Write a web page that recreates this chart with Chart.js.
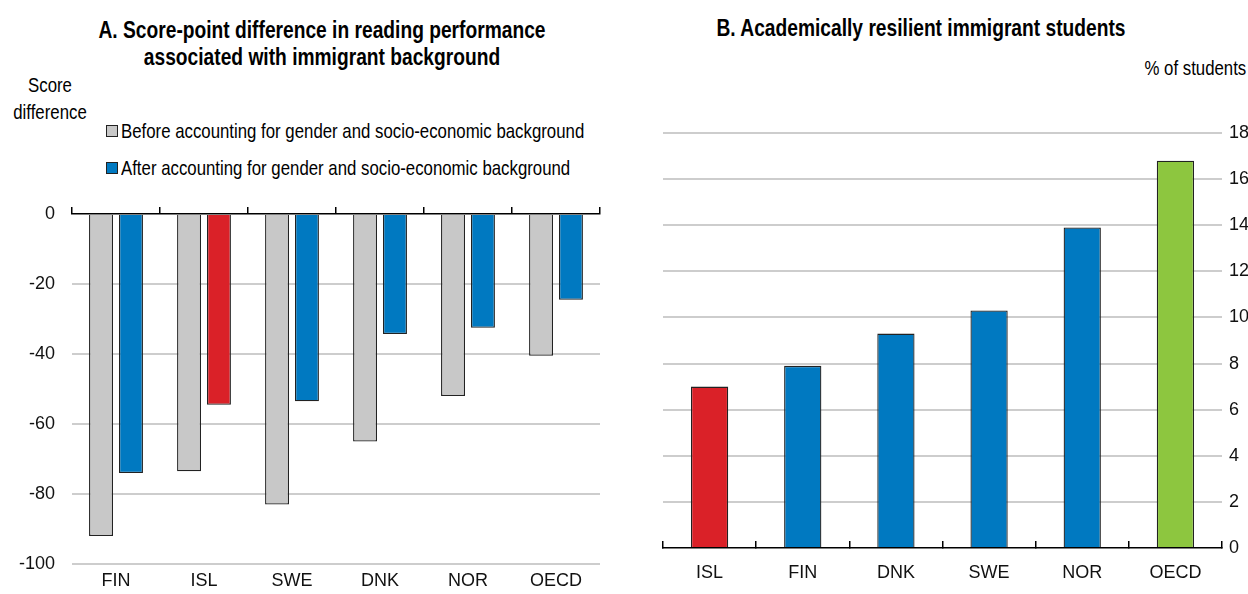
<!DOCTYPE html>
<html lang="en">
<head>
  <meta charset="UTF-8">
  <title>Immigrant students: reading gap and resilience</title>
  <style>
    body {
      margin: 0;
      width: 1248px;
      height: 594px;
      position: relative;
      overflow: hidden;
      background: #fff;
      color: #000;
      font-family: 'Liberation Sans Narrow', 'Arial Narrow', 'Liberation Sans', sans-serif;
    }
    .abs { position: absolute; }
    /* the source uses a tall condensed face; squeeze regular Liberation Sans to match */
    .title {
      position: absolute;
      font-weight: bold;
      font-size: 24px;
      line-height: 27px;
      text-align: center;
      white-space: nowrap;
      transform: scaleX(0.8);
      transform-origin: center top;
    }
    .unit {
      position: absolute;
      font-size: 21px;
      line-height: 27px;
      white-space: nowrap;
      transform: scaleX(0.8);
    }
    #legendA { position: absolute; left: 106px; top: 112px; font-size: 21px; }
    #legendA div { height: 37px; display: flex; align-items: center; white-space: nowrap; }
    #legendA span.sw {
      flex: none; width: 10px; height: 10px; border: 1px solid #222;
      margin: 0 3px 0 0;
    }
    #legendA span.tx { display: inline-block; transform: scaleX(0.8); transform-origin: left center; }
  </style>
</head>
<body>
  <div class="title" style="left:-28px; top:16px; width:700px;">A. Score-point difference in reading performance<br>associated with immigrant background</div>
  <div class="unit" style="left:0; top:71px; width:100px; text-align:center; transform-origin:center top;">Score<br>difference</div>
  <div id="legendA"></div>
  <div class="abs" style="left:0; top:0; width:620px; height:594px;"><canvas id="chartA"></canvas></div>

  <div class="title" style="left:571px; top:14px; width:700px;">B. Academically resilient immigrant students</div>
  <div class="unit" style="right:2px; top:54px; text-align:right; transform-origin:right top;">% of students</div>
  <div class="abs" style="left:640px; top:0; width:608px; height:594px;"><canvas id="chartB"></canvas></div>

  <script src="https://cdn.jsdelivr.net/npm/chart.js"></script>
  <script>
    // Panel A: score-point difference
    const countriesA = ['FIN', 'ISL', 'SWE', 'DNK', 'NOR', 'OECD'];
    const beforeAdj = [-92, -73.5, -83, -65, -52, -40.5];
    const afterAdj = [-74, -54.5, -53.5, -34.3, -32.5, -24.5];
    const ticksA = [0, -20, -40, -60, -80, -100];

    // Panel B: % of resilient immigrant students
    const countriesB = ['ISL', 'FIN', 'DNK', 'SWE', 'NOR', 'OECD'];
    const resilient = [7.0, 7.9, 9.3, 10.3, 13.9, 16.8];
    const ticksB = [0, 2, 4, 6, 8, 10, 12, 14, 16, 18];

    const GREY = '#c8c8c8';
    const BLUE = '#0079c1';
    const RED = '#da2128';
    const GREEN = '#8dc63f';
    const GRID = '#cdcdcd';
    const FONT = { family: "'Liberation Sans Narrow', 'Arial Narrow', 'Liberation Sans', sans-serif", size: 18 };

    const colourFor = c => c === 'ISL' ? RED : c === 'OECD' ? GREEN : BLUE;

    const chartA = new Chart(document.getElementById('chartA'), {
      type: 'bar',
      data: {
        labels: countriesA,
        datasets: [
          {
            label: 'Before accounting for gender and socio-economic background',
            data: beforeAdj,
            backgroundColor: GREY,
            borderColor: '#222',
            borderWidth: 1.3
          },
          {
            label: 'After accounting for gender and socio-economic background',
            data: afterAdj,
            backgroundColor: countriesA.map(c => c === 'ISL' ? RED : BLUE),
            borderColor: '#222',
            borderWidth: 1.3
          }
        ]
      },
      options: {
        responsive: true,
        maintainAspectRatio: false,
        animation: false,
        categoryPercentage: 0.68,
        barPercentage: 0.8,
        layout: { padding: { top: 207, right: 20, bottom: 0, left: 0 } },
        plugins: { legend: { display: false }, tooltip: { enabled: false } },
        scales: {
          x: {
            position: 'bottom',
            grid: { display: false, drawTicks: false },
            border: { display: false },
            ticks: { color: '#111', font: FONT, padding: 6 },
            afterFit: s => { s.height = 30; }
          },
          xTop: {
            type: 'category',
            position: 'top',
            labels: countriesA,
            offset: true,
            grid: { offset: true, drawOnChartArea: false, tickLength: 7, color: '#000', lineWidth: 1.5 },
            border: { display: true, color: '#000', width: 1.5 },
            ticks: { display: false }
          },
          y: {
            min: -100,
            max: 0,
            afterBuildTicks: s => { s.ticks = ticksA.map(v => ({ value: v })); },
            grid: {
              color: ctx => ctx.tick && ctx.tick.value === 0 ? 'rgba(0,0,0,0)' : GRID,
              lineWidth: 2,
              drawTicks: false
            },
            border: { display: false },
            ticks: { color: '#111', font: FONT, padding: 17 },
            afterFit: s => { s.width = 72; }
          }
        }
      }
    });

    // html legend for panel A, built from the datasets
    const legendA = document.getElementById('legendA');
    chartA.data.datasets.forEach((ds, i) => {
      const row = document.createElement('div');
      const sw = document.createElement('span');
      sw.className = 'sw';
      sw.style.background = i === 0 ? GREY : BLUE;
      const tx = document.createElement('span');
      tx.className = 'tx';
      tx.textContent = ds.label;
      row.appendChild(sw);
      row.appendChild(tx);
      legendA.appendChild(row);
    });

    new Chart(document.getElementById('chartB'), {
      type: 'bar',
      data: {
        labels: countriesB,
        datasets: [{
          label: '% of students',
          data: resilient,
          backgroundColor: countriesB.map(colourFor),
          borderColor: '#222',
          borderWidth: 1.3
        }]
      },
      options: {
        responsive: true,
        maintainAspectRatio: false,
        animation: false,
        categoryPercentage: 0.8,
        barPercentage: 0.5,
        layout: { padding: { top: 133, right: 0, bottom: 0, left: 23 } },
        plugins: { legend: { display: false }, tooltip: { enabled: false } },
        scales: {
          x: {
            offset: true,
            grid: { offset: true, drawOnChartArea: false, tickLength: -7, color: '#000', lineWidth: 1.5 },
            border: { display: true, color: '#000', width: 1.5 },
            ticks: { color: '#111', font: FONT, padding: 21 },
            afterFit: s => { s.height = 46; }
          },
          y: {
            position: 'right',
            min: 0,
            max: 18,
            afterBuildTicks: s => { s.ticks = ticksB.map(v => ({ value: v })); },
            grid: {
              color: ctx => ctx.tick && ctx.tick.value === 0 ? 'rgba(0,0,0,0)' : GRID,
              lineWidth: 2,
              drawTicks: false
            },
            border: { display: false },
            ticks: { color: '#111', font: FONT, padding: 7 },
            afterFit: s => { s.width = 26; }
          }
        }
      }
    });
  </script>
</body>
</html>
